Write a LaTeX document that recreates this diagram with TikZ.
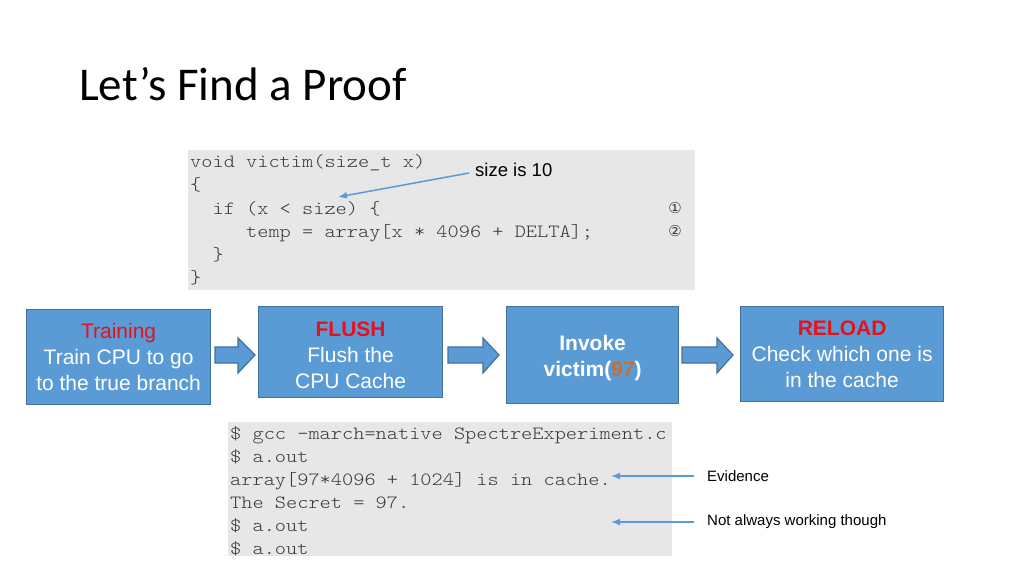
\documentclass[tikz,border=0pt]{standalone}
\usepackage{fontspec}
\setmainfont{Liberation Sans}
\newfontfamily\titlefont{Carlito}
\newfontfamily\codefont[FakeStretch=1.14]{lmmonolt10-regular.otf}
\newfontfamily\symfont{DejaVu Sans}
\usetikzlibrary{arrows.meta}
\definecolor{boxblue}{HTML}{5B9BD5}
\definecolor{boxedge}{HTML}{41719C}
\definecolor{codebg}{HTML}{E7E7E7}
\definecolor{codefg}{HTML}{383838}
\definecolor{hired}{HTML}{E8101A}
\definecolor{numorange}{HTML}{D26A2A}
\definecolor{ptrblue}{HTML}{5B9BD5}
\newcommand{\blockarr}[4]{% name, tail x, head base x, tip x
  \draw[blockarrow] (#2,347) -- (#3,347) -- (#3,338) -- (#4,355) -- (#3,373) -- (#3,363) -- (#2,363) -- cycle;
  \coordinate (#1) at ({(#2+#4)/2},355);}
\begin{document}
\begin{tikzpicture}[x=1pt,y=-1pt,
  codeline/.style={anchor=base west,inner sep=0pt,font=\codefont\fontsize{18.7}{20}\selectfont,text=codefg},
  stepbox/.style={draw=boxedge,line width=1.2pt,fill=boxblue,text=white,align=center,
    font=\fontsize{21}{26}\selectfont,inner sep=0pt},
  blockarrow/.style={draw=boxedge,line width=1.2pt,fill=boxblue,line join=miter},
  pointer/.style={draw=ptrblue,line width=1.5pt,-{Latex[length=9pt,width=7pt]}},
  note/.style={anchor=west,inner sep=0pt,font=\fontsize{15}{17}\selectfont}]
\useasboundingbox (0,0) rectangle (1024,576);
\fill[white] (0,0) rectangle (1024,576);
% title
\node[anchor=base west,inner sep=0pt,font=\titlefont\fontsize{47}{50}\selectfont] (title) at (79,100) {Let’s Find a Proof};
% code box 1
\node[fill=codebg,minimum width=507pt,minimum height=140pt,anchor=north west,inner sep=0pt] (code1) at (188,150) {};
\node[codeline] (c1) at (190,167) {void victim(size\_t x)};
\node[codeline] (c2) at (190,190) {\{};
\node[codeline] (c3) at (190,214) {\ \ if (x < size) \{};
\node[codeline] (c4) at (190,237) {\ \ \ \ \ temp = array[x * 4096 + DELTA];};
\node[codeline] (c5) at (190,260) {\ \ \}};
\node[codeline] (c6) at (190,283) {\}};
\node[inner sep=0pt,font=\symfont\fontsize{15}{16}\selectfont,text=codefg] (n1) at (675,208) {①};
\node[inner sep=0pt,font=\symfont\fontsize{15}{16}\selectfont,text=codefg] (n2) at (675,231) {②};
\node[note,font=\fontsize{18.5}{20}\selectfont] (sizenote) at (475,170) {size is 10};
\coordinate (sizetip) at (338,197);
\draw[pointer] (sizenote.west) ++(-6,3) -- (sizetip);
% steps
\node[stepbox,anchor=north west,minimum width=184pt,minimum height=95pt] (train) at (26,309)
  {\textcolor{hired}{Training}\\Train CPU to go\\to the true branch};
\node[stepbox,anchor=north west,minimum width=184pt,minimum height=91pt] (flush) at (258,306)
  {\rule{0pt}{21pt}\textcolor{hired}{\bfseries FLUSH}\\Flush the\\CPU Cache};
\node[stepbox,anchor=north west,minimum width=172pt,minimum height=97pt] (invoke) at (506,306)
  {\rule{0pt}{22pt}\bfseries Invoke\\\bfseries victim(\textcolor{numorange}{97})};
\node[stepbox,anchor=north west,minimum width=203pt,minimum height=95pt] (reload) at (740,306)
  {\textcolor{hired}{\bfseries RELOAD}\\Check which one is\\in the cache};
\blockarr{a1}{215}{238}{255}
\blockarr{a2}{448}{483}{499}
\blockarr{a3}{682}{717}{733}
% code box 2
\node[fill=codebg,minimum width=444pt,minimum height=134pt,anchor=north west,inner sep=0pt] (code2) at (228,422) {};
\node[codeline] (d1) at (230,439) {\$ gcc -march=native SpectreExperiment.c};
\node[codeline] (d2) at (230,462) {\$ a.out};
\node[codeline] (d3) at (230,485) {array[97*4096 + 1024] is in cache.};
\node[codeline] (d4) at (230,508) {The Secret = 97.};
\node[codeline] (d5) at (230,531) {\$ a.out};
\node[codeline] (d6) at (230,554) {\$ a.out};
\node[note] (evid) at (707,476) {Evidence};
\node[note] (notalw) at (707,522) {Not always working though};
\coordinate (evtip) at (611,476);
\coordinate (natip) at (611,522);
\draw[pointer] (evid.west) ++(-13,0) -- (evtip);
\draw[pointer] (notalw.west) ++(-13,0) -- (natip);
\end{tikzpicture}
\end{document}
